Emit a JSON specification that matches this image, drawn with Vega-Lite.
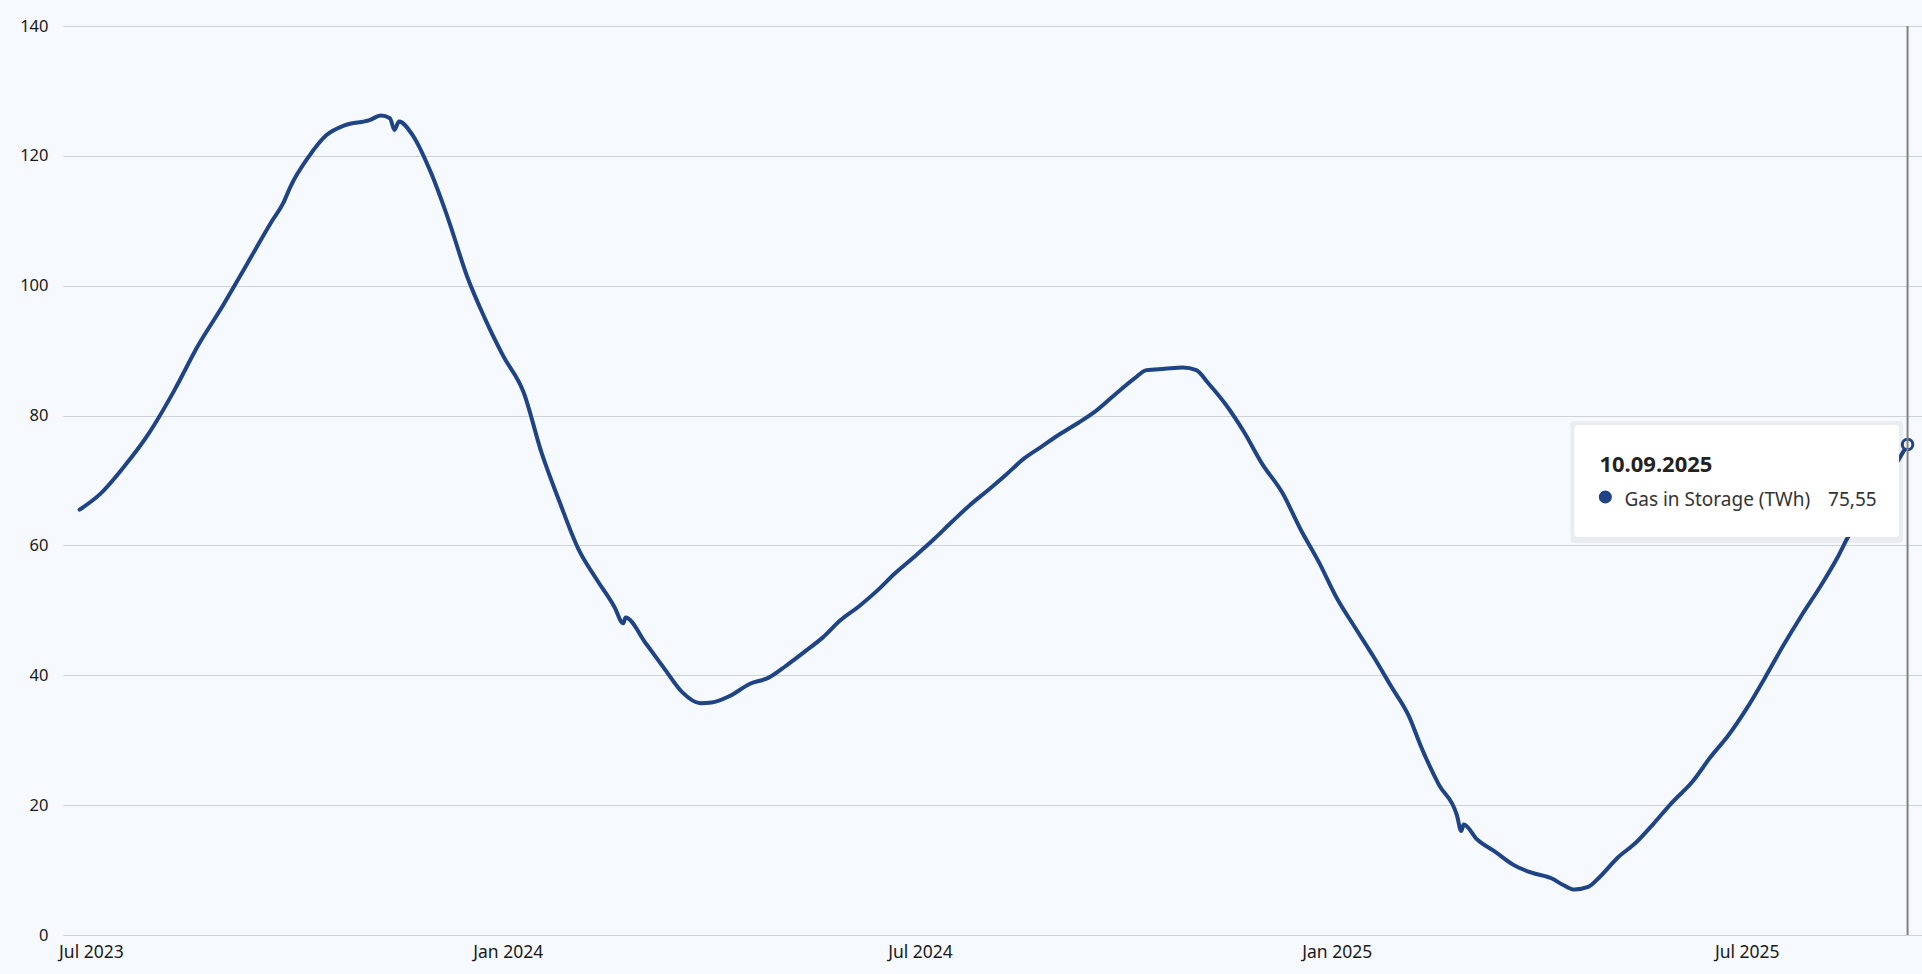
{
  "$schema": "https://vega.github.io/schema/vega-lite/v6.json",
  "width": 1859,
  "height": 909,
  "autosize": {"type": "none"},
  "padding": {"left": 63, "top": 26, "right": 0, "bottom": 39},
  "background": "#f6f9fd",
  "config": {"view": {"stroke": null}, "font": "Segoe UI, Noto Sans"},
  "datasets": {
    "series": [
      {"date": "2023-06-26", "value": 65.5},
      {"date": "2023-07-05", "value": 67.9},
      {"date": "2023-07-16", "value": 72.3},
      {"date": "2023-07-27", "value": 77.5},
      {"date": "2023-08-07", "value": 84.0},
      {"date": "2023-08-17", "value": 90.6},
      {"date": "2023-08-28", "value": 96.8},
      {"date": "2023-09-08", "value": 103.4},
      {"date": "2023-09-19", "value": 110.0},
      {"date": "2023-09-24", "value": 112.8},
      {"date": "2023-09-27", "value": 115.2},
      {"date": "2023-10-05", "value": 119.8},
      {"date": "2023-10-13", "value": 123.2},
      {"date": "2023-10-21", "value": 124.7},
      {"date": "2023-11-01", "value": 125.5},
      {"date": "2023-11-06", "value": 126.2},
      {"date": "2023-11-10", "value": 125.8},
      {"date": "2023-11-12", "value": 124.0},
      {"date": "2023-11-14", "value": 125.3},
      {"date": "2023-11-20", "value": 123.2},
      {"date": "2023-11-28", "value": 117.5},
      {"date": "2023-12-06", "value": 110.0},
      {"date": "2023-12-14", "value": 101.5},
      {"date": "2023-12-22", "value": 94.9},
      {"date": "2023-12-30", "value": 89.2},
      {"date": "2024-01-08", "value": 83.6},
      {"date": "2024-01-16", "value": 74.2},
      {"date": "2024-01-24", "value": 66.6},
      {"date": "2024-02-01", "value": 59.6},
      {"date": "2024-02-09", "value": 54.9},
      {"date": "2024-02-17", "value": 50.6},
      {"date": "2024-02-21", "value": 48.0},
      {"date": "2024-02-22", "value": 48.9},
      {"date": "2024-03-02", "value": 44.9},
      {"date": "2024-03-10", "value": 41.1},
      {"date": "2024-03-18", "value": 37.4},
      {"date": "2024-03-26", "value": 35.7},
      {"date": "2024-03-31", "value": 35.8},
      {"date": "2024-04-08", "value": 36.8},
      {"date": "2024-04-17", "value": 38.7},
      {"date": "2024-04-25", "value": 39.6},
      {"date": "2024-05-03", "value": 41.5},
      {"date": "2024-05-11", "value": 43.6},
      {"date": "2024-05-19", "value": 45.8},
      {"date": "2024-05-27", "value": 48.5},
      {"date": "2024-06-04", "value": 50.6},
      {"date": "2024-06-12", "value": 53.0},
      {"date": "2024-06-20", "value": 55.7},
      {"date": "2024-06-28", "value": 58.1},
      {"date": "2024-07-07", "value": 60.9},
      {"date": "2024-07-15", "value": 63.6},
      {"date": "2024-07-23", "value": 66.2},
      {"date": "2024-07-31", "value": 68.5},
      {"date": "2024-08-08", "value": 70.9},
      {"date": "2024-08-16", "value": 73.4},
      {"date": "2024-08-24", "value": 75.3},
      {"date": "2024-09-01", "value": 77.2},
      {"date": "2024-09-09", "value": 78.9},
      {"date": "2024-09-17", "value": 80.8},
      {"date": "2024-09-25", "value": 83.2},
      {"date": "2024-10-04", "value": 85.8},
      {"date": "2024-10-09", "value": 87.0},
      {"date": "2024-10-17", "value": 87.2},
      {"date": "2024-10-25", "value": 87.4},
      {"date": "2024-10-31", "value": 87.0},
      {"date": "2024-11-05", "value": 85.1},
      {"date": "2024-11-13", "value": 81.7},
      {"date": "2024-11-21", "value": 77.5},
      {"date": "2024-11-29", "value": 72.6},
      {"date": "2024-12-08", "value": 68.1},
      {"date": "2024-12-16", "value": 62.5},
      {"date": "2024-12-24", "value": 57.5},
      {"date": "2025-01-01", "value": 51.9},
      {"date": "2025-01-09", "value": 47.4},
      {"date": "2025-01-17", "value": 43.0},
      {"date": "2025-01-25", "value": 38.3},
      {"date": "2025-02-02", "value": 33.6},
      {"date": "2025-02-07", "value": 29.2},
      {"date": "2025-02-15", "value": 23.2},
      {"date": "2025-02-23", "value": 18.5},
      {"date": "2025-02-25", "value": 16.0},
      {"date": "2025-02-26", "value": 17.0},
      {"date": "2025-03-04", "value": 14.7},
      {"date": "2025-03-12", "value": 12.8},
      {"date": "2025-03-20", "value": 10.8},
      {"date": "2025-03-28", "value": 9.6},
      {"date": "2025-04-06", "value": 8.7},
      {"date": "2025-04-11", "value": 7.7},
      {"date": "2025-04-16", "value": 7.0},
      {"date": "2025-04-22", "value": 7.4},
      {"date": "2025-04-27", "value": 8.9},
      {"date": "2025-05-05", "value": 11.9},
      {"date": "2025-05-13", "value": 14.2},
      {"date": "2025-05-21", "value": 17.2},
      {"date": "2025-05-29", "value": 20.4},
      {"date": "2025-06-07", "value": 23.6},
      {"date": "2025-06-15", "value": 27.4},
      {"date": "2025-06-23", "value": 30.8},
      {"date": "2025-07-01", "value": 34.9},
      {"date": "2025-07-09", "value": 39.6},
      {"date": "2025-07-17", "value": 44.5},
      {"date": "2025-07-25", "value": 49.1},
      {"date": "2025-08-02", "value": 53.4},
      {"date": "2025-08-10", "value": 58.1},
      {"date": "2025-08-15", "value": 61.5},
      {"date": "2025-08-21", "value": 64.7},
      {"date": "2025-08-26", "value": 67.5},
      {"date": "2025-09-01", "value": 70.4},
      {"date": "2025-09-10", "value": 75.55}
    ],
    "cursor": [{"date": "2025-09-10", "value": 75.55}],
    "box": [
      {"kind": "shadow", "date": "2025-04-14T04:48:00Z", "date2": "2025-09-08T00:00:00Z", "value": 79.16, "value2": 60.37},
      {"kind": "box", "date": "2025-04-15T21:36:00Z", "date2": "2025-09-06T06:00:00Z", "value": 78.55, "value2": 61.3}
    ],
    "title": [{"date": "2025-04-26T23:00:00Z", "value": 71.3, "label": "10.09.2025"}],
    "dot": [{"date": "2025-04-29T14:00:00Z", "value": 67.46}],
    "legend": [
      {"date": "2025-05-08T00:00:00Z", "value": 66.07, "label": "Gas in Storage (TWh)"},
      {"date": "2025-08-05T21:36:00Z", "value": 66.07, "label": "75,55"}
    ]
  },
  "layer": [
    {
      "data": {"name": "series"},
      "mark": {"type": "line", "color": "#1f4486", "strokeWidth": 4, "interpolate": "monotone", "strokeJoin": "round", "strokeCap": "round"},
      "encoding": {
        "x": {
          "field": "date", "type": "temporal",
          "scale": {"type": "utc", "domain": [
            {"year": 2023, "month": 6, "date": 18, "hours": 16, "utc": true},
            {"year": 2025, "month": 9, "date": 16, "hours": 9, "utc": true}
          ]},
          "axis": {
            "title": null,
            "values": [
              {"year": 2023, "month": 7, "date": 1, "utc": true},
              {"year": 2024, "month": 1, "date": 1, "utc": true},
              {"year": 2024, "month": 7, "date": 1, "utc": true},
              {"year": 2025, "month": 1, "date": 1, "utc": true},
              {"year": 2025, "month": 7, "date": 1, "utc": true}
            ],
            "format": "%b %Y",
            "grid": false, "ticks": false, "domain": false,
            "labelFontSize": 17.5, "labelColor": "#1a1a1a", "labelPadding": 8, "labelFlush": false
          }
        },
        "y": {
          "field": "value", "type": "quantitative",
          "scale": {"domain": [0, 140], "nice": false, "zero": true},
          "axis": {
            "title": null,
            "values": [0, 20, 40, 60, 80, 100, 120, 140],
            "grid": true, "gridColor": "#cdd3da", "gridWidth": 1.2,
            "ticks": false, "domain": false,
            "labelFontSize": 16.5, "labelColor": "#1a1a1a", "labelPadding": 15
          }
        }
      }
    },
    {
      "data": {"name": "cursor"},
      "mark": {"type": "circle", "size": 110, "fill": "#f6f9fd", "stroke": "#1f4486", "strokeWidth": 3, "opacity": 1},
      "encoding": {
        "x": {"field": "date", "type": "temporal"},
        "y": {"field": "value", "type": "quantitative"}
      }
    },
    {
      "data": {"name": "cursor"},
      "mark": {"type": "rule", "color": "#808080", "strokeWidth": 2},
      "encoding": {
        "x": {"field": "date", "type": "temporal"}
      }
    },
    {
      "data": {"name": "box"},
      "mark": {"type": "rect", "cornerRadius": 3},
      "encoding": {
        "x": {"field": "date", "type": "temporal"},
        "x2": {"field": "date2"},
        "y": {"field": "value", "type": "quantitative"},
        "y2": {"field": "value2"},
        "fill": {"field": "kind", "type": "nominal", "scale": {"domain": ["shadow", "box"], "range": ["#000000", "#ffffff"]}, "legend": null},
        "opacity": {"field": "kind", "type": "nominal", "scale": {"domain": ["shadow", "box"], "range": [0.05, 1]}, "legend": null}
      }
    },
    {
      "data": {"name": "title"},
      "mark": {"type": "text", "align": "left", "baseline": "alphabetic", "fontSize": 22, "fontWeight": "bold", "color": "#222222"},
      "encoding": {
        "x": {"field": "date", "type": "temporal"},
        "y": {"field": "value", "type": "quantitative"},
        "text": {"field": "label"}
      }
    },
    {
      "data": {"name": "dot"},
      "mark": {"type": "circle", "size": 170, "color": "#1f4486", "opacity": 1},
      "encoding": {
        "x": {"field": "date", "type": "temporal"},
        "y": {"field": "value", "type": "quantitative"}
      }
    },
    {
      "data": {"name": "legend"},
      "mark": {"type": "text", "align": "left", "baseline": "alphabetic", "fontSize": 19, "color": "#333333"},
      "encoding": {
        "x": {"field": "date", "type": "temporal"},
        "y": {"field": "value", "type": "quantitative"},
        "text": {"field": "label"}
      }
    }
  ]
}
